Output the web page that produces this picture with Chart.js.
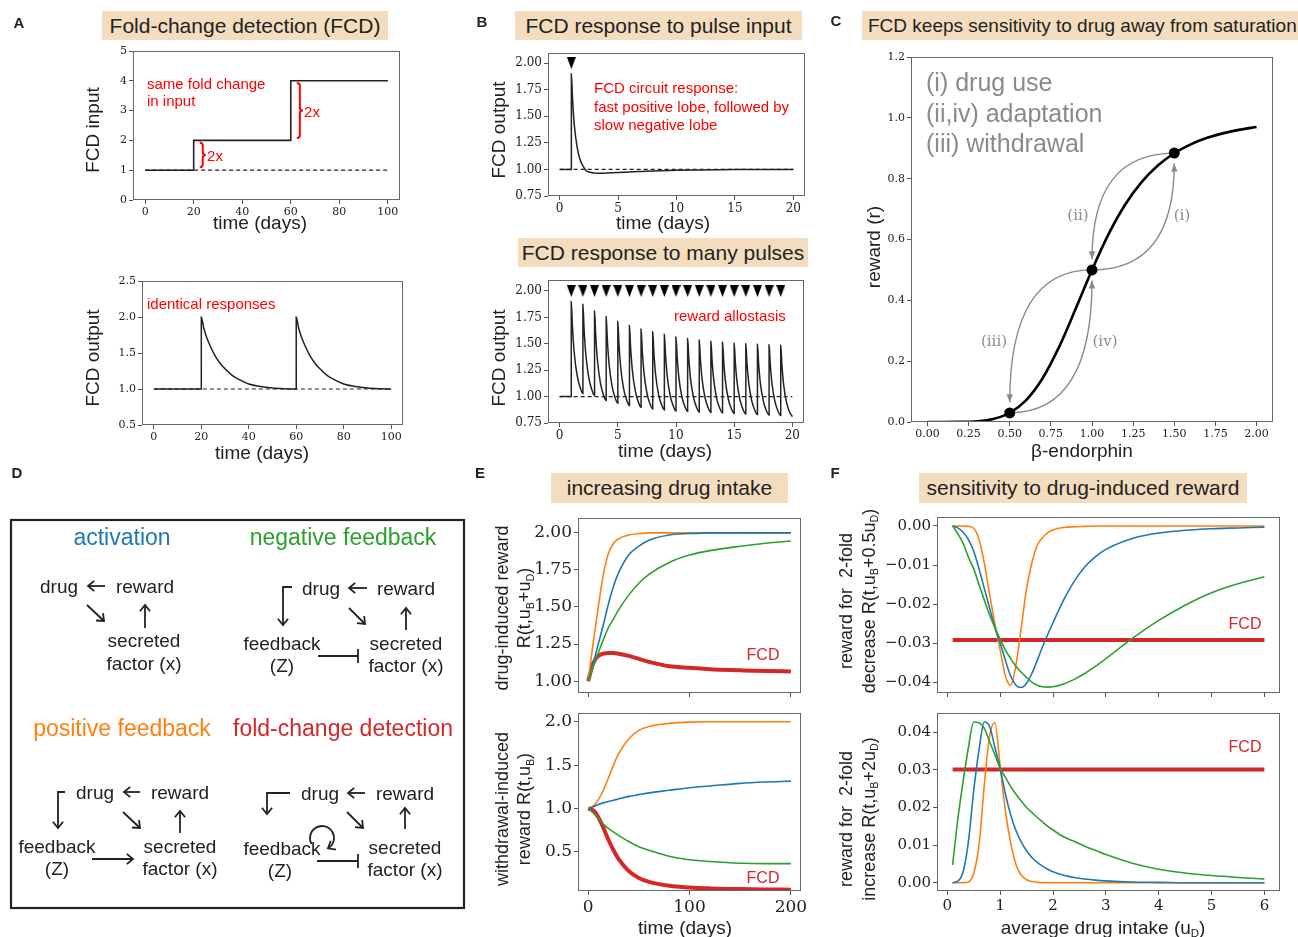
<!DOCTYPE html>
<html>
<head>
<meta charset="utf-8">
<script src="https://cdn.jsdelivr.net/npm/chart.js@4.4.1/dist/chart.umd.min.js"></script>
<style>
  body { margin: 0; background: #fff; }
  #page { position: relative; width: 1298px; height: 937px; overflow: hidden; background: #fff;
          font-family: "Liberation Sans", Arial, sans-serif; color: #222; }
  .t { position: absolute; white-space: nowrap; line-height: 1; }
  .box { position: absolute; background: #f3ddbe; display: flex; align-items: center; justify-content: center;
         white-space: nowrap; color: #222; }
  canvas { position: absolute; }
  sub { font-size: 0.6em; vertical-align: -0.35em; line-height: 0; }
  svg { position: absolute; left: 0; top: 0; }
</style>
</head>
<body>
<div id="page"></div>
<script>
// ---------- data ----------
// A: step input and FCD output
const aInTime = [0, 20, 20, 60, 60, 100];
const aInValue = [1, 1, 2, 2, 4, 4];
const aBaseTime = [0, 100];
const aBaseValue = [1, 1];
const aOutTime = [0, 20, 20, 21, 22, 24, 26, 28, 30, 33, 36, 40, 45, 50, 55, 60,
                  60, 61, 62, 64, 66, 68, 70, 73, 76, 80, 85, 90, 95, 100];
const aOutValue = [1, 1, 2.0, 1.85, 1.74, 1.58, 1.45, 1.355, 1.28, 1.19, 1.13, 1.07, 1.035, 1.015, 1.005, 1.0,
                   2.0, 1.85, 1.74, 1.58, 1.45, 1.355, 1.28, 1.19, 1.13, 1.07, 1.035, 1.015, 1.005, 1.0];
const aXTicks = [0, 20, 40, 60, 80, 100];
const aTopYTicks = [0, 1, 2, 3, 4, 5];
const aBotYTicks = [0.5, 1.0, 1.5, 2.0, 2.5];

// B: single pulse and many pulses
const bOneTime = [0, 1, 1, 1.1, 1.25, 1.5, 1.75, 2, 2.25, 2.5, 3, 3.5, 4, 5, 6, 7, 8, 10, 12, 15, 20];
const bOneValue = [1, 1, 1.90, 1.665, 1.42, 1.204, 1.09, 1.03, 0.99, 0.975, 0.965, 0.963, 0.965, 0.97,
                   0.976, 0.981, 0.986, 0.992, 0.995, 0.998, 1.0];
const bOnePulse = [1];
const bOneMark = [2.0];
const bBaseTime = [0, 20];
const bBaseValue = [1, 1];
const manyPulseTimes = [1, 2, 3, 4, 5, 6, 7, 8, 9, 10, 11, 12, 13, 14, 15, 16, 17, 18, 19];
const manyMarkY = [2, 2, 2, 2, 2, 2, 2, 2, 2, 2, 2, 2, 2, 2, 2, 2, 2, 2, 2];
// value just before each pulse (and at t = 20)
const manyTroughs = [1.00, 1.03, 1.01, 0.962, 0.937, 0.915, 0.90, 0.883, 0.874, 0.864,
                     0.86, 0.855, 0.85, 0.845, 0.84, 0.835, 0.83, 0.825, 0.82, 0.81];
const pulseOffsets = [0, 0.1, 0.25, 0.5, 0.75];
const manyDecays = [
  [1.90, 1.665, 1.42, 1.204, 1.091],
  [1.874, 1.641, 1.399, 1.183, 1.07],
  [1.81, 1.581, 1.344, 1.132, 1.021],
  [1.758, 1.536, 1.306, 1.101, 0.994],
  [1.71, 1.495, 1.273, 1.074, 0.971],
  [1.672, 1.464, 1.247, 1.054, 0.954],
  [1.64, 1.436, 1.224, 1.034, 0.936],
  [1.615, 1.415, 1.207, 1.022, 0.926],
  [1.59, 1.394, 1.191, 1.009, 0.915],
  [1.565, 1.375, 1.177, 1.001, 0.909],
  [1.55, 1.362, 1.168, 0.994, 0.904],
  [1.535, 1.35, 1.158, 0.987, 0.898],
  [1.525, 1.341, 1.151, 0.981, 0.893],
  [1.515, 1.333, 1.144, 0.975, 0.887],
  [1.505, 1.324, 1.137, 0.969, 0.882],
  [1.50, 1.319, 1.132, 0.964, 0.877],
  [1.495, 1.314, 1.127, 0.959, 0.872],
  [1.49, 1.309, 1.122, 0.954, 0.867],
  [1.485, 1.303, 1.114, 0.945, 0.857]
];
const bXTicks = [0, 5, 10, 15, 20];
const bYTicks = [0.75, 1.00, 1.25, 1.50, 1.75, 2.00];

// C: dose-response
const cDose = [0, 0.1, 0.2, 0.3, 0.4, 0.5, 0.6, 0.7, 0.8, 0.9, 1.0, 1.1, 1.2, 1.3, 1.4, 1.5, 1.6, 1.7, 1.8, 1.9, 2.0];
const cReward = [0, 0.00001, 0.0003, 0.0024, 0.0101, 0.0303, 0.0721, 0.1439, 0.2468, 0.3713, 0.5,
                 0.6169, 0.7133, 0.7878, 0.8432, 0.8836, 0.9129, 0.9342, 0.9497, 0.9612, 0.9697];
const cStateDose = [0.5, 1.0, 1.5];
const cStateReward = [0.03, 0.5, 0.884];
const cXTicks = [0, 0.25, 0.5, 0.75, 1.0, 1.25, 1.5, 1.75, 2.0];
const cYTicks = [0, 0.2, 0.4, 0.6, 0.8, 1.0, 1.2];
// curved arrows: start, bend, end (data coordinates)
const cArrows = [
  {from: [1.0, 0.5], bend: [1.5, 0.5], to: [1.5, 0.85]},
  {from: [1.5, 0.884], bend: [1.0, 0.884], to: [1.0, 0.535]},
  {from: [1.0, 0.5], bend: [0.5, 0.5], to: [0.5, 0.065]},
  {from: [0.5, 0.03], bend: [1.0, 0.03], to: [1.0, 0.465]}
];

// E: reward over time
const eTime = [0, 5, 10, 15, 20, 25, 30, 40, 50, 60, 80, 100, 120, 150, 175, 200];
const eUpOrange = [1.0, 1.26, 1.5, 1.72, 1.86, 1.93, 1.96, 1.985, 1.995, 2.0, 2.0, 2.0, 2.0, 2.0, 2.0, 2.0];
const eUpBlue = [1.0, 1.12, 1.25, 1.38, 1.52, 1.64, 1.73, 1.85, 1.91, 1.95, 1.985, 1.995, 2.0, 2.0, 2.0, 2.0];
const eUpGreen = [1.0, 1.1, 1.19, 1.28, 1.36, 1.42, 1.48, 1.58, 1.66, 1.72, 1.80, 1.85, 1.88, 1.91, 1.93, 1.945];
const eUpFcd = [1.0, 1.12, 1.17, 1.185, 1.19, 1.19, 1.185, 1.17, 1.15, 1.13, 1.10, 1.09, 1.08, 1.073, 1.068, 1.065];
const eDownOrange = [1.0, 1.03, 1.1, 1.21, 1.35, 1.5, 1.63, 1.8, 1.9, 1.945, 1.98, 1.995, 2.0, 2.0, 2.0, 2.0];
const eDownBlue = [1.0, 1.02, 1.045, 1.065, 1.08, 1.095, 1.11, 1.14, 1.16, 1.18, 1.21, 1.24, 1.26, 1.29, 1.305, 1.315];
const eDownGreen = [1.0, 0.95, 0.89, 0.82, 0.77, 0.73, 0.69, 0.62, 0.56, 0.52, 0.45, 0.41, 0.39, 0.37, 0.365, 0.365];
const eDownFcd = [1.0, 0.98, 0.9, 0.78, 0.64, 0.52, 0.42, 0.28, 0.2, 0.155, 0.11, 0.09, 0.08, 0.072, 0.068, 0.065];
const eXTicks = [0, 100, 200];
const eTopYTicks = [1.00, 1.25, 1.50, 1.75, 2.00];
const eBotYTicks = [0.5, 1.0, 1.5, 2.0];

// F: sensitivity vs average drug intake
const uGrid = [0.1, 0.2, 0.3, 0.4, 0.5, 0.6, 0.7, 0.8, 0.9, 1.0, 1.1, 1.2, 1.3, 1.4, 1.5, 1.6, 1.7, 1.8, 1.9, 2.0,
               2.2, 2.4, 2.6, 2.8, 3.0, 3.5, 4.0, 4.5, 5.0, 5.5, 6.0];
const fDecOrange = [0, 0, 0, -0.0001, -0.0006, -0.0035, -0.0095, -0.0175, -0.025, -0.0318,
                    -0.0385, -0.0408, -0.0355, -0.026, -0.016, -0.0095, -0.005, -0.003, -0.0017, -0.001,
                    -0.0004, -0.0002, -0.0001, 0, 0, 0, 0, 0, 0, 0, 0];
const fDecBlue = [0, -0.0005, -0.0016, -0.0035, -0.0065, -0.011, -0.016, -0.021, -0.026, -0.030,
                  -0.0345, -0.0385, -0.0408, -0.0414, -0.0403, -0.0378, -0.0345, -0.031, -0.0278, -0.0248,
                  -0.019, -0.0142, -0.0105, -0.0079, -0.006, -0.0032, -0.0018, -0.0011, -0.0007, -0.0005, -0.0003];
const fDecGreen = [0, -0.002, -0.0045, -0.008, -0.011, -0.015, -0.019, -0.0228, -0.026, -0.029,
                   -0.0318, -0.034, -0.036, -0.0375, -0.0388, -0.040, -0.0408, -0.0412, -0.0413, -0.0412,
                   -0.0405, -0.0393, -0.0378, -0.036, -0.034, -0.0288, -0.0242, -0.0203, -0.0171, -0.0148, -0.013];
const fIncOrange = [0, 0, 0, 0.0002, 0.0025, 0.010, 0.026, 0.039, 0.0425, 0.031,
                    0.019, 0.0105, 0.0048, 0.002, 0.0008, 0.0003, 0.0001, 0, 0, 0,
                    0, 0, 0, 0, 0, 0, 0, 0, 0, 0, 0];
const fIncBlue = [0, 0.0004, 0.003, 0.011, 0.0245, 0.0353, 0.0427, 0.0415, 0.036, 0.0304,
                  0.0235, 0.018, 0.0138, 0.0108, 0.0085, 0.0067, 0.0054, 0.0044, 0.0036, 0.0029,
                  0.002, 0.0014, 0.001, 0.0007, 0.0005, 0.0002, 0.0001, 0, 0, 0, 0];
const fIncGreen = [0.0047, 0.017, 0.027, 0.036, 0.0427, 0.0425, 0.041, 0.0375, 0.034, 0.0304,
                   0.028, 0.0255, 0.0235, 0.0217, 0.020, 0.0187, 0.0174, 0.0162, 0.015, 0.014,
                   0.0122, 0.011, 0.0097, 0.0086, 0.0075, 0.0052, 0.0036, 0.0026, 0.0019, 0.0014, 0.001];
const fFcdU = [0.1, 6.0];
const fDecFcd = [-0.0292, -0.0292];
const fIncFcd = [0.0301, 0.0301];
const fXTicks = [0, 1, 2, 3, 4, 5, 6];
const fTopYTicks = [0, -0.01, -0.02, -0.03, -0.04];
const fBotYTicks = [0, 0.01, 0.02, 0.03, 0.04];

const ORANGE = '#ff7f0e', BLUE = '#1f77b4', GREEN = '#2ca02c', RED = '#d62728';

// ---------- helpers ----------
const page = document.getElementById('page');
Chart.defaults.font.family = 'DejaVu Serif';

function txt(html, x, y, o) {
  o = o || {};
  const d = document.createElement('div');
  d.className = 't';
  d.innerHTML = html;
  d.style.fontSize = (o.size || 19) + 'px';
  if (o.color) d.style.color = o.color;
  if (o.family) d.style.fontFamily = o.family;
  if (o.bold) d.style.fontWeight = 'bold';
  if (o.lh) { d.style.lineHeight = o.lh; d.style.textAlign = 'center'; }
  d.style.left = x + 'px';
  d.style.top = y + 'px';
  const ax = o.left ? '0' : '-50%';
  d.style.transform = 'translate(' + ax + ',-50%)' + (o.rot ? ' rotate(' + o.rot + 'deg)' : '');
  page.appendChild(d);
}

function titleBox(text, x0, y0, x1, y1, size, left) {
  const d = document.createElement('div');
  d.className = 'box';
  d.textContent = text;
  Object.assign(d.style, {left: x0 + 'px', top: y0 + 'px', width: (x1 - x0) + 'px', height: (y1 - y0) + 'px',
                          fontSize: size + 'px'});
  if (left) { d.style.justifyContent = 'flex-start'; d.style.paddingLeft = '6px'; }
  page.appendChild(d);
}

function pts(xs, ys) { return xs.map((x, i) => ({x: x, y: ys[i]})); }

function line(xs, ys, color, width, more) {
  return Object.assign({
    data: pts(xs, ys), borderColor: color, backgroundColor: color, borderWidth: width,
    pointRadius: 0, fill: false, cubicInterpolationMode: 'monotone'
  }, more || {});
}

function axis(min, max, ticks, fmt, size, showLabels) {
  return {
    type: 'linear', min: min, max: max,
    grid: {drawOnChartArea: false, drawTicks: true, tickLength: 4, color: '#555'},
    border: {display: false},
    ticks: {display: showLabels !== false, color: '#222', padding: 2, autoSkip: false,
            maxRotation: 0, minRotation: 0, font: {family: 'DejaVu Serif', size: size}, callback: fmt},
    afterBuildTicks: s => { s.ticks = ticks.map(v => ({value: v})); }
  };
}

const fixed = n => v => v.toFixed(n);
const signed = n => v => (v < 0 ? '\u2212' + (-v).toFixed(n) : v.toFixed(n));

const framePlugin = {
  id: 'frame',
  afterDraw(chart) {
    const a = chart.chartArea, ctx = chart.ctx;
    ctx.save();
    ctx.strokeStyle = '#666';
    ctx.lineWidth = 1;
    ctx.strokeRect(Math.round(a.left) + 0.5, Math.round(a.top) + 0.5,
                   Math.round(a.right - a.left) - 1, Math.round(a.bottom - a.top) - 1);
    ctx.restore();
  }
};

// box = plot area [left, top, right, bottom] in page pixels
function makeChart(box, padL, padB, xAxis, yAxis, datasets, extra) {
  const padT = 12, padR = 16;
  const w = box[2] - box[0] + padL + padR;
  const h = box[3] - box[1] + padT + padB;
  const c = document.createElement('canvas');
  c.width = w; c.height = h;
  Object.assign(c.style, {left: (box[0] - padL) + 'px', top: (box[1] - padT) + 'px', width: w + 'px', height: h + 'px'});
  page.appendChild(c);
  const noPad = s => { s.paddingLeft = 0; s.paddingRight = 0; s.paddingTop = 0; s.paddingBottom = 0; };
  xAxis.afterFit = s => { s.height = padB; noPad(s); };
  yAxis.afterFit = s => { s.width = padL; noPad(s); };
  return new Chart(c, {
    type: 'line',
    data: {datasets: datasets},
    options: {
      responsive: false, animation: false, devicePixelRatio: 1,
      layout: {padding: {top: padT, right: padR, left: 0, bottom: 0}},
      plugins: {legend: {display: false}, tooltip: {enabled: false}},
      scales: {x: xAxis, y: yAxis}
    },
    plugins: [framePlugin].concat(extra || [])
  });
}

// ---------- panel A ----------
const aBraces = [{x: 22.5, y0: 1.1, y1: 1.92}, {x: 62.5, y0: 2.08, y1: 3.93}];
const bracePlugin = {
  id: 'braces',
  afterDatasetsDraw(chart) {
    const {ctx, scales: {x, y}} = chart;
    ctx.save();
    ctx.strokeStyle = '#ff0000';
    ctx.lineWidth = 2;
    aBraces.forEach(b => {
      const px = x.getPixelForValue(b.x), yt = y.getPixelForValue(b.y1), yb = y.getPixelForValue(b.y0);
      const ym = (yt + yb) / 2, w = 6, q = 3;
      ctx.beginPath();
      ctx.moveTo(px, yt);
      ctx.quadraticCurveTo(px + w / 2, yt, px + w / 2, yt + q);
      ctx.lineTo(px + w / 2, ym - q);
      ctx.quadraticCurveTo(px + w / 2, ym, px + w, ym);
      ctx.quadraticCurveTo(px + w / 2, ym, px + w / 2, ym + q);
      ctx.lineTo(px + w / 2, yb - q);
      ctx.quadraticCurveTo(px + w / 2, yb, px, yb);
      ctx.stroke();
    });
    ctx.restore();
  }
};

makeChart([133, 51, 400, 200], 40, 30,
  axis(-5, 105, aXTicks, fixed(0), 11),
  axis(0, 5, aTopYTicks, fixed(0), 11),
  [
    line(aBaseTime, aBaseValue, '#222', 1.2, {borderDash: [4, 3]}),
    line(aInTime, aInValue, '#222', 1.6, {cubicInterpolationMode: 'default', tension: 0})
  ], [bracePlugin]);

makeChart([142, 281, 403, 425], 40, 30,
  axis(-5, 105, aXTicks, fixed(0), 11),
  axis(0.5, 2.5, aBotYTicks, fixed(1), 11),
  [
    line(aBaseTime, aBaseValue, '#222', 1.2, {borderDash: [4, 3]}),
    line(aOutTime, aOutValue, '#222', 1.5)
  ]);

// ---------- panel B ----------
// downward pointing pulse marker
const markImg = document.createElement('canvas');
markImg.width = 9; markImg.height = 12;
(function () {
  const g = markImg.getContext('2d');
  g.fillStyle = '#000';
  g.beginPath(); g.moveTo(0, 0); g.lineTo(9, 0); g.lineTo(4.5, 12); g.closePath(); g.fill();
})();
const triangle = {showLine: false, pointRadius: 6, pointStyle: markImg};

makeChart([548, 53, 805, 196], 45, 30,
  axis(-1, 21, bXTicks, fixed(0), 12),
  axis(0.75, 2.094, bYTicks, fixed(2), 12),
  [
    line(bBaseTime, bBaseValue, '#222', 1.2, {borderDash: [4, 3]}),
    line(bOneTime, bOneValue, '#222', 1.5),
    line(bOnePulse, bOneMark, '#000', 0, triangle)
  ]);

const manyPoints = [{x: 0, y: manyTroughs[0]}];
manyPulseTimes.forEach((t, k) => {
  manyPoints.push({x: t, y: manyTroughs[k]});
  pulseOffsets.forEach((o, j) => manyPoints.push({x: t + o, y: manyDecays[k][j]}));
});
manyPoints.push({x: 20, y: manyTroughs[19]});

makeChart([548, 280, 804, 423], 45, 30,
  axis(-1, 21, bXTicks, fixed(0), 12),
  axis(0.75, 2.104, bYTicks, fixed(2), 12),
  [
    line(bBaseTime, bBaseValue, '#222', 1.2, {borderDash: [4, 3]}),
    {data: manyPoints, borderColor: '#222', borderWidth: 1.5, pointRadius: 0, fill: false,
     cubicInterpolationMode: 'monotone'},
    line(manyPulseTimes, manyMarkY, '#000', 0, triangle)
  ]);

// ---------- panel C ----------
const cArrowPlugin = {
  id: 'cArrows',
  beforeDatasetsDraw(chart) {
    const {ctx, scales: {x, y}} = chart;
    const P = p => [x.getPixelForValue(p[0]), y.getPixelForValue(p[1])];
    ctx.save();
    ctx.strokeStyle = '#8a8a8a';
    ctx.fillStyle = '#8a8a8a';
    ctx.lineWidth = 1.4;
    cArrows.forEach(a => {
      const p0 = P(a.from), p1 = P(a.bend), p2 = P(a.to);
      ctx.beginPath();
      ctx.moveTo(p0[0], p0[1]);
      ctx.quadraticCurveTo(p1[0], p1[1], p2[0], p2[1]);
      ctx.stroke();
      const ang = Math.atan2(p2[1] - p1[1], p2[0] - p1[0]);
      const L = 8, W = 3.2;
      ctx.beginPath();
      ctx.moveTo(p2[0], p2[1]);
      ctx.lineTo(p2[0] - L * Math.cos(ang) + W * Math.sin(ang), p2[1] - L * Math.sin(ang) - W * Math.cos(ang));
      ctx.lineTo(p2[0] - L * Math.cos(ang) - W * Math.sin(ang), p2[1] - L * Math.sin(ang) + W * Math.cos(ang));
      ctx.closePath();
      ctx.fill();
    });
    ctx.restore();
  }
};

makeChart([911, 57, 1273, 422], 45, 30,
  axis(-0.1, 2.1, cXTicks, fixed(2), 11),
  axis(0, 1.2, cYTicks, fixed(1), 11),
  [
    line(cDose, cReward, '#000', 2.6),
    line(cStateDose, cStateReward, '#000', 0, {showLine: false, pointRadius: 5.5,
         pointBackgroundColor: '#000', pointBorderColor: '#000'})
  ], [cArrowPlugin]);

// ---------- panel E ----------
makeChart([578, 518, 801, 693], 62, 8,
  axis(-10, 210, eXTicks, fixed(0), 17, false),
  axis(0.92, 2.10, eTopYTicks, fixed(2), 17),
  [
    line(eTime, eUpGreen, GREEN, 1.6),
    line(eTime, eUpBlue, BLUE, 1.6),
    line(eTime, eUpOrange, ORANGE, 1.6),
    line(eTime, eUpFcd, RED, 4)
  ]);

makeChart([578, 713, 801, 891], 62, 30,
  axis(-10, 210, eXTicks, fixed(0), 17),
  axis(0.05, 2.10, eBotYTicks, fixed(1), 17),
  [
    line(eTime, eDownGreen, GREEN, 1.6),
    line(eTime, eDownBlue, BLUE, 1.6),
    line(eTime, eDownOrange, ORANGE, 1.6),
    line(eTime, eDownFcd, RED, 4)
  ]);

// ---------- panel F ----------
makeChart([937, 517, 1280, 693], 66, 8,
  axis(-0.195, 6.295, fXTicks, fixed(0), 15, false),
  axis(-0.0428, 0.0023, fTopYTicks, signed(2), 15),
  [
    line(uGrid, fDecGreen, GREEN, 1.6),
    line(uGrid, fDecBlue, BLUE, 1.6),
    line(uGrid, fDecOrange, ORANGE, 1.6),
    line(fFcdU, fDecFcd, RED, 4)
  ]);

makeChart([937, 713, 1280, 891], 66, 30,
  axis(-0.195, 6.295, fXTicks, fixed(0), 15),
  axis(-0.0022, 0.0451, fBotYTicks, fixed(2), 15),
  [
    line(uGrid, fIncGreen, GREEN, 1.6),
    line(uGrid, fIncBlue, BLUE, 1.6),
    line(uGrid, fIncOrange, ORANGE, 1.6),
    line(fFcdU, fIncFcd, RED, 4)
  ]);

// ---------- panel D diagram ----------
const svgParts = [];
function head(x, y, ang, len) {
  const a1 = ang + Math.PI * 0.78, a2 = ang - Math.PI * 0.78;
  return 'M' + (x + len * Math.cos(a1)).toFixed(1) + ',' + (y + len * Math.sin(a1)).toFixed(1) +
         ' L' + x + ',' + y + ' L' + (x + len * Math.cos(a2)).toFixed(1) + ',' + (y + len * Math.sin(a2)).toFixed(1);
}
function arrow(p) {
  const n = p.length, a = p[n - 2], b = p[n - 1];
  const ang = Math.atan2(b[1] - a[1], b[0] - a[0]);
  svgParts.push('<path d="M' + p.map(q => q.join(',')).join(' L') + '"/><path d="' + head(b[0], b[1], ang, 8) + '"/>');
}
function inhibit(x1, x2, y, h) {
  svgParts.push('<path d="M' + x1 + ',' + y + ' L' + x2 + ',' + y + ' M' + x2 + ',' + (y - h) + ' L' + x2 + ',' + (y + h) + '"/>');
}
// activation
arrow([[105, 586], [88, 586]]);
arrow([[87, 605], [104, 621]]);
arrow([[145, 628], [145, 605]]);
// negative feedback
arrow([[367, 588], [349, 588]]);
arrow([[349, 608], [365, 624]]);
arrow([[406, 630], [406, 608]]);
arrow([[292, 587], [283, 587], [283, 625]]);
inhibit(318, 358, 656, 7);
// positive feedback
arrow([[140, 792], [124, 792]]);
arrow([[123, 812], [140, 828]]);
arrow([[180, 833], [180, 811]]);
arrow([[65, 792], [58, 792], [58, 828]]);
arrow([[92, 859], [133, 859]]);
// fold-change detection
arrow([[365, 793], [348, 793]]);
arrow([[347, 812], [363, 828]]);
arrow([[405, 829], [405, 808]]);
arrow([[290, 793], [267, 793], [267, 814]]);
inhibit(317, 358, 861, 7);
svgParts.push('<path d="M311.6,844 A12,12 0 1 1 328,848.4"/><path d="' + head(328, 848.4, Math.atan2(0.5, -0.866), 8) + '"/>');
svgParts.push('<rect x="11" y="520" width="453" height="388" stroke-width="2.2"/>');

const svg = document.createElement('div');
svg.innerHTML = '<svg width="1298" height="937" xmlns="http://www.w3.org/2000/svg"><g fill="none" stroke="#222" stroke-width="1.8">' +
                svgParts.join('') + '</g></svg>';
page.appendChild(svg);

// ---------- text ----------
const SERIF = '"DejaVu Serif", serif';
// panel letters
txt('A', 19, 22, {size: 15, bold: true});
txt('B', 482, 21, {size: 15, bold: true});
txt('C', 836, 20, {size: 15, bold: true});
txt('D', 17, 472, {size: 15, bold: true});
txt('E', 480, 472, {size: 15, bold: true});
txt('F', 835, 472, {size: 15, bold: true});

// titles
titleBox('Fold-change detection (FCD)', 102, 11, 388, 40, 21);
titleBox('FCD response to pulse input', 515, 11, 802, 40, 21);
titleBox('FCD response to many pulses', 518, 238, 808, 267, 21);
titleBox('FCD keeps sensitivity to drug away from saturation', 862, 11, 1310, 40, 19, true);
titleBox('increasing drug intake', 551, 473, 788, 503, 21);
titleBox('sensitivity to drug-induced reward', 919, 473, 1247, 503, 21);

// A
txt('FCD input', 92, 130, {rot: -90});
txt('time (days)', 260, 222);
txt('same fold change', 147, 83, {size: 15, color: '#ff0000', left: true});
txt('in input', 147, 100, {size: 15, color: '#ff0000', left: true});
txt('2x', 215, 155, {size: 15, color: '#ff0000'});
txt('2x', 312, 111, {size: 15, color: '#ff0000'});
txt('FCD output', 92, 358, {rot: -90});
txt('time (days)', 262, 452);
txt('identical responses', 147, 303, {size: 15, color: '#ff0000', left: true});

// B
txt('FCD output', 498, 130, {rot: -90});
txt('time (days)', 663, 222);
txt('FCD circuit response:', 594, 87, {size: 15, color: '#ff0000', left: true});
txt('fast positive lobe, followed by', 594, 106, {size: 15, color: '#ff0000', left: true});
txt('slow negative lobe', 594, 124, {size: 15, color: '#ff0000', left: true});
txt('FCD output', 498, 358, {rot: -90});
txt('time (days)', 665, 450);
txt('reward allostasis', 674, 315, {size: 15, color: '#ff0000', left: true});

// C
txt('reward (r)', 873, 247, {rot: -90});
txt('\u03b2-endorphin', 1082, 450);
txt('(i) drug use', 926, 82, {size: 25, color: '#8a8a8a', left: true});
txt('(ii,iv) adaptation', 926, 113, {size: 25, color: '#8a8a8a', left: true});
txt('(iii) withdrawal', 926, 143, {size: 25, color: '#8a8a8a', left: true});
txt('(ii)', 1078, 215, {size: 15, color: '#8a8a8a', family: SERIF});
txt('(i)', 1182, 215, {size: 15, color: '#8a8a8a', family: SERIF});
txt('(iii)', 994, 341, {size: 15, color: '#8a8a8a', family: SERIF});
txt('(iv)', 1105, 341, {size: 15, color: '#8a8a8a', family: SERIF});

// D
txt('activation', 122, 537, {size: 23, color: BLUE});
txt('negative feedback', 343, 537, {size: 23, color: GREEN});
txt('positive feedback', 122, 728, {size: 23, color: ORANGE});
txt('fold-change detection', 343, 728, {size: 23, color: RED});
txt('drug', 59, 586); txt('reward', 145, 586);
txt('secreted', 144, 640); txt('factor (x)', 144, 663);
txt('drug', 321, 588); txt('reward', 406, 588);
txt('feedback', 282, 643); txt('(Z)', 282, 665);
txt('secreted', 406, 643); txt('factor (x)', 406, 665);
txt('drug', 95, 792); txt('reward', 180, 792);
txt('feedback', 57, 846); txt('(Z)', 57, 868);
txt('secreted', 180, 846); txt('factor (x)', 180, 868);
txt('drug', 320, 793); txt('reward', 405, 793);
txt('feedback', 282, 848); txt('(Z)', 280, 870);
txt('secreted', 405, 847); txt('factor (x)', 405, 869);

// E
txt('drug-induced reward<br>R(t,u<sub>B</sub>+u<sub>D</sub>)', 514, 608, {size: 18, rot: -90, lh: '1.2'});
txt('withdrawal-induced<br>reward R(t,u<sub>B</sub>)', 514, 809, {size: 18, rot: -90, lh: '1.2'});
txt('time (days)', 685, 927);
txt('FCD', 763, 655, {size: 16, color: RED});
txt('FCD', 763, 878, {size: 16, color: RED});

// F
txt('reward for &nbsp;2-fold<br>decrease R(t,u<sub>B</sub>+0.5u<sub>D</sub>)', 857, 601, {size: 18, rot: -90, lh: '1.25'});
txt('reward for &nbsp;2-fold<br>increase R(t,u<sub>B</sub>+2u<sub>D</sub>)', 857, 819, {size: 18, rot: -90, lh: '1.25'});
txt('average drug intake (u<sub>D</sub>)', 1103, 927);
txt('FCD', 1245, 624, {size: 16, color: RED});
txt('FCD', 1245, 747, {size: 16, color: RED});
</script>
</body>
</html>
